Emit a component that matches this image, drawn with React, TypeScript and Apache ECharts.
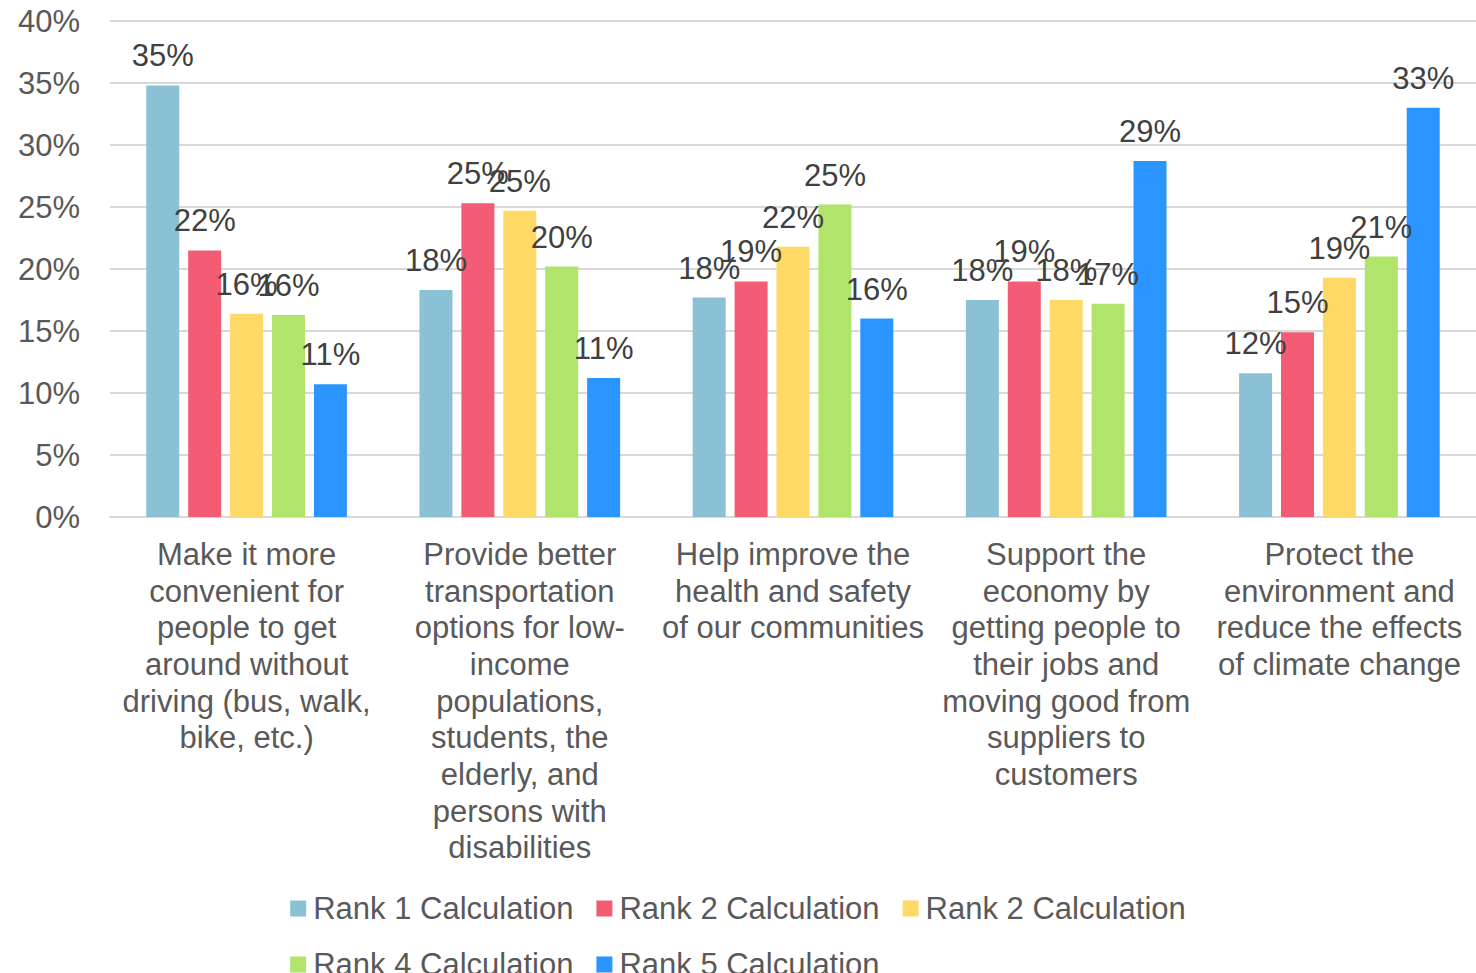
import React, { useEffect, useRef } from "react";
import * as echarts from "echarts";

const categories = [
  "Make it more\nconvenient for\npeople to get\naround without\ndriving (bus, walk,\nbike, etc.)",
  "Provide better\ntransportation\noptions for low-\nincome\npopulations,\nstudents, the\nelderly, and\npersons with\ndisabilities",
  "Help improve the\nhealth and safety\nof our communities",
  "Support the\neconomy by\ngetting people to\ntheir jobs and\nmoving good from\nsuppliers to\ncustomers",
  "Protect the\nenvironment and\nreduce the effects\nof climate change",
];

const seriesKeys = ["rank1", "rank2", "rank3", "rank4", "rank5"];
const legendLabels = [
  "Rank 1 Calculation",
  "Rank 2 Calculation",
  "Rank 2 Calculation",
  "Rank 4 Calculation",
  "Rank 5 Calculation",
];

const rank1 = [34.8, 18.3, 17.7, 17.5, 11.6];
const rank2 = [21.5, 25.3, 19.0, 19.0, 14.9];
const rank3 = [16.4, 24.7, 21.8, 17.5, 19.3];
const rank4 = [16.3, 20.2, 25.2, 17.2, 21.0];
const rank5 = [10.7, 11.2, 16.0, 28.7, 33.0];

const seriesValues = [rank1, rank2, rank3, rank4, rank5];
const colors = ["#8BC1D5", "#F25C75", "#FFD966", "#B0E46B", "#2B95FF"];

const yTicks = { min: 0, max: 40, interval: 5 };

export default function App() {
  const ref = useRef<HTMLDivElement>(null);
  useEffect(() => {
    document.body.style.margin = "0";
    if (!ref.current) return;
    const chart = echarts.init(ref.current, null, { renderer: "svg" });
    const font = "Liberation Sans, Arial, sans-serif";
    const legendNameMap: Record<string, string> = {};
    seriesKeys.forEach((k, i) => (legendNameMap[k] = legendLabels[i]));
    chart.setOption({
      animation: false,
      textStyle: { fontFamily: font },
      grid: { left: 110, right: 0, top: 21, bottom: 456, containLabel: false },
      legend: {
        data: seriesKeys,
        left: "center",
        top: 887,
        width: 980,
        itemWidth: 16,
        itemHeight: 16,
        itemGap: 23,
        icon: "rect",
        formatter: (n: string) => legendNameMap[n] || n,
        textStyle: {
          fontSize: 31,
          color: "#595959",
          fontFamily: font,
          lineHeight: 33,
          padding: [0, 0, 0, 2],
        },
      },
      xAxis: {
        type: "category",
        data: categories,
        axisLine: { show: true, lineStyle: { color: "#D9D9D9", width: 2 } },
        axisTick: { show: false },
        axisLabel: {
          interval: 0,
          fontSize: 31,
          lineHeight: 36.7,
          color: "#595959",
          margin: 19,
          fontFamily: font,
          align: "center",
        },
      },
      yAxis: {
        type: "value",
        min: yTicks.min,
        max: yTicks.max,
        interval: yTicks.interval,
        axisLine: { show: false },
        axisTick: { show: false },
        splitLine: { lineStyle: { color: "#D9D9D9", width: 2 } },
        axisLabel: {
          formatter: "{value}%",
          fontSize: 31,
          color: "#595959",
          margin: 30,
          fontFamily: font,
        },
      },
      series: seriesKeys.map((k, i) => ({
        name: k,
        type: "bar",
        data: seriesValues[i],
        barWidth: 33,
        barGap: "27%",
        itemStyle: { color: colors[i] },
        label: {
          show: true,
          position: "top",
          distance: 14,
          fontSize: 31,
          color: "#404040",
          fontFamily: font,
          formatter: (p: any) => Math.round(p.value) + "%",
        },
      })),
    });
    return () => chart.dispose();
  }, []);
  return <div ref={ref} style={{ width: 1476, height: 973 }} />;
}
